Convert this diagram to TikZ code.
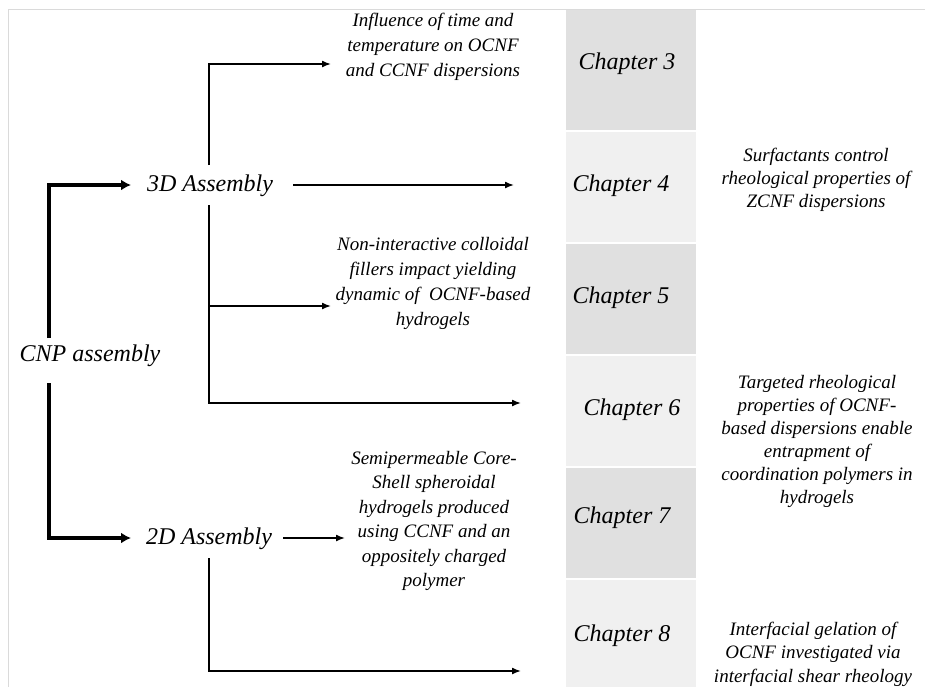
\documentclass[tikz,border=0pt]{standalone}
\usepackage{fontspec}
\setmainfont{Liberation Serif}
\usetikzlibrary{arrows.meta}
\definecolor{cellA}{HTML}{E0E0E0}
\definecolor{cellB}{HTML}{F0F0F0}
\definecolor{framec}{HTML}{DADADA}
\begin{document}
\begin{tikzpicture}[x=1pt,y=-1pt,
  thinarr/.style={line width=1.5pt,-{Latex[length=9pt,width=7pt]}},
  thickarr/.style={line width=4pt,-{Latex[length=10pt,width=11pt]}},
  head/.style={font=\fontsize{24}{28}\selectfont\itshape, inner sep=0pt},
  chap/.style={font=\fontsize{24}{28}\selectfont\itshape, inner sep=0pt},
  desc/.style={font=\fontsize{19}{#1}\selectfont\itshape, align=center, inner sep=0pt},
  desc/.default={23.5},
  darkcell/.style={fill=cellA},
  lightcell/.style={fill=cellB}]
\useasboundingbox (0,0) rectangle (925,686);
\fill[white] (0,0) rectangle (925,686);
% frame
\draw[framec, line width=1pt] (8,700) -- (8,9) -- (935,9);
% chapter cells
\fill[darkcell]  (566,10)  rectangle (696,130);
\fill[lightcell] (566,132) rectangle (696,242);
\fill[darkcell]  (566,244) rectangle (696,354);
\fill[lightcell] (566,356) rectangle (696,466);
\fill[darkcell]  (566,468) rectangle (696,578);
\fill[lightcell] (566,580) rectangle (696,690);
% chapter labels
\node[chap] (ch3) at (627,64)  {Chapter 3};
\node[chap] (ch4) at (621,186) {Chapter 4};
\node[chap] (ch5) at (621,298) {Chapter 5};
\node[chap] (ch6) at (632,410) {Chapter 6};
\node[chap] (ch7) at (622,518) {Chapter 7};
\node[chap] (ch8) at (622,636) {Chapter 8};
% headings
\node[head] (cnp) at (90,356)  {CNP assembly};
\node[head] (a3)  at (210,186) {3D Assembly};
\node[head] (a2)  at (209,539) {2D Assembly};
% descriptions
\node[desc={25}] (d3) at (433,47) {Influence of time and\\temperature on OCNF\\and CCNF dispersions};
\node[desc={23}] (d4) at (816,180) {Surfactants control\\rheological properties of\\ZCNF dispersions};
\node[desc={25}] (d5) at (433,283) {Non-interactive colloidal\\fillers impact yielding\\dynamic of\ \ OCNF-based\\hydrogels};
\node[desc={23}] (d6) at (817,441) {Targeted rheological\\properties of OCNF-\\based dispersions enable\\entrapment of\\coordination polymers in\\hydrogels};
\node[desc={24.4}] (d7) at (434,521) {Semipermeable Core-\\Shell spheroidal\\hydrogels produced\\using CCNF and an\\oppositely charged\\polymer};
\node[desc={23.5}] (d8) at (813,654) {Interfacial gelation of\\OCNF investigated via\\interfacial shear rheology};
% connector coordinates
\coordinate (cnpT) at (49,338);
\coordinate (cnpB) at (49,383);
\coordinate (a3in) at (131,185);
\coordinate (a2in) at (131,538);
\coordinate (a3up) at (209,165);
\coordinate (a3dn) at (209,205);
\coordinate (j5)   at (209,306);
\coordinate (t3)   at (331,64);
\coordinate (t5)   at (331,306);
\coordinate (t6)   at (521,403);
\coordinate (a3out) at (293,185);
\coordinate (t4)   at (514,185);
\coordinate (a2out) at (283,538);
\coordinate (t7)   at (345,538);
\coordinate (a2dn) at (209,558);
\coordinate (t8)   at (521,671);
% thick connectors
\draw[thickarr] (cnpT) |- (a3in);
\draw[thickarr] (cnpB) |- (a2in);
% thin connectors
\draw[thinarr] (a3up) |- (t3);
\draw[thinarr] (a3dn) |- (t6);
\draw[thinarr] (j5) -- (t5);
\draw[thinarr] (a3out) -- (t4);
\draw[thinarr] (a2out) -- (t7);
\draw[thinarr] (a2dn) |- (t8);
\end{tikzpicture}
\end{document}
